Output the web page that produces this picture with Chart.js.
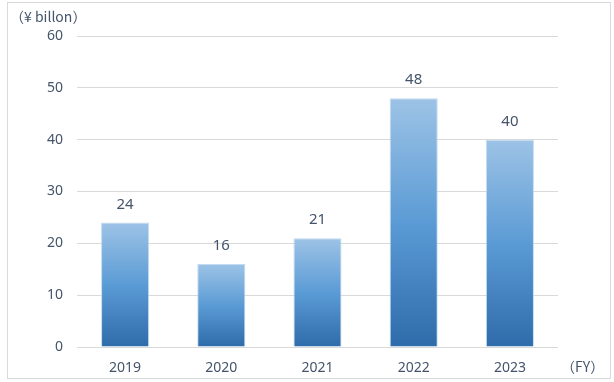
<!DOCTYPE html>
<html>
<head>
<meta charset="utf-8">
<script src="https://cdn.jsdelivr.net/npm/chart.js@4/dist/chart.umd.min.js"></script>
<style>
html,body{margin:0;padding:0;background:#fff;}
#wrap{position:relative;width:614px;height:382px;}
</style>
</head>
<body>
<div id="wrap"><canvas id="c" width="614" height="382"></canvas></div>
<script>
const categories = ['2019', '2020', '2021', '2022', '2023'];
const values = [24, 16, 21, 48, 40];
const yTicks = [0, 10, 20, 30, 40, 50, 60];
const unitLabel = '（¥ billon）';
const axisLabel = '（FY）';

const textColor = '#44546A';
const numFont = '"Noto Sans", "Liberation Sans", sans-serif';
const cjkFont = '"Noto Sans CJK JP", "Noto Sans", sans-serif';

const decor = {
  id: 'decor',
  beforeDraw(chart) {
    const ctx = chart.ctx;
    ctx.save();
    ctx.strokeStyle = '#D9D9D9';
    ctx.lineWidth = 1;
    ctx.strokeRect(7.5, 2.5, 603, 376);
    ctx.restore();
  },
  afterDatasetsDraw(chart) {
    const ctx = chart.ctx;
    const meta = chart.getDatasetMeta(0);
    ctx.save();
    ctx.fillStyle = textColor;
    ctx.font = '15px ' + numFont;
    ctx.textAlign = 'center';
    ctx.textBaseline = 'middle';
    meta.data.forEach((bar, i) => {
      ctx.fillText(String(values[i]), bar.x, bar.y - 18);
    });
    ctx.font = '14px ' + cjkFont;
    ctx.textAlign = 'left';
    ctx.fillText(unitLabel, 10, 17);
    ctx.fillText(axisLabel, 561, 367);
    ctx.restore();
  }
};

new Chart(document.getElementById('c'), {
  type: 'bar',
  data: {
    labels: categories,
    datasets: [{
      data: values,
      barPercentage: 0.5,
      categoryPercentage: 1.0,
      borderWidth: 1,
      borderColor: 'rgba(189,215,238,0.9)',
      backgroundColor: (c) => {
        const chart = c.chart;
        const ys = chart.scales && chart.scales.y;
        if (c.type !== 'data' || !ys || !chart.chartArea) return '#5B9BD5';
        const top = ys.getPixelForValue(c.raw);
        const bottom = ys.getPixelForValue(0);
        if (!isFinite(top) || !isFinite(bottom) || top === bottom) return '#5B9BD5';
        const g = chart.ctx.createLinearGradient(0, top, 0, bottom);
        g.addColorStop(0, '#9DC3E6');
        g.addColorStop(0.5, '#5B9BD5');
        g.addColorStop(1, '#2E6BAA');
        return g;
      }
    }]
  },
  options: {
    responsive: false,
    animation: false,
    layout: { padding: { left: 0, right: 56, top: 36, bottom: 0 } },
    plugins: { legend: { display: false }, tooltip: { enabled: false } },
    scales: {
      x: {
        grid: { display: false, drawTicks: false },
        border: { display: false },
        ticks: { color: textColor, font: { family: numFont, size: 14 }, padding: 13 },
        afterFit(s) { s.height = 35; }
      },
      y: {
        min: 0, max: 60,
        afterBuildTicks(s) { s.ticks = yTicks.map(v => ({ value: v })); },
        grid: { color: '#D9D9D9', lineWidth: 1, drawTicks: false },
        border: { display: false },
        ticks: { color: textColor, font: { family: numFont, size: 14 }, padding: 14 },
        afterFit(s) { s.width = 77; }
      }
    }
  },
  plugins: [decor]
});
</script>
</body>
</html>
